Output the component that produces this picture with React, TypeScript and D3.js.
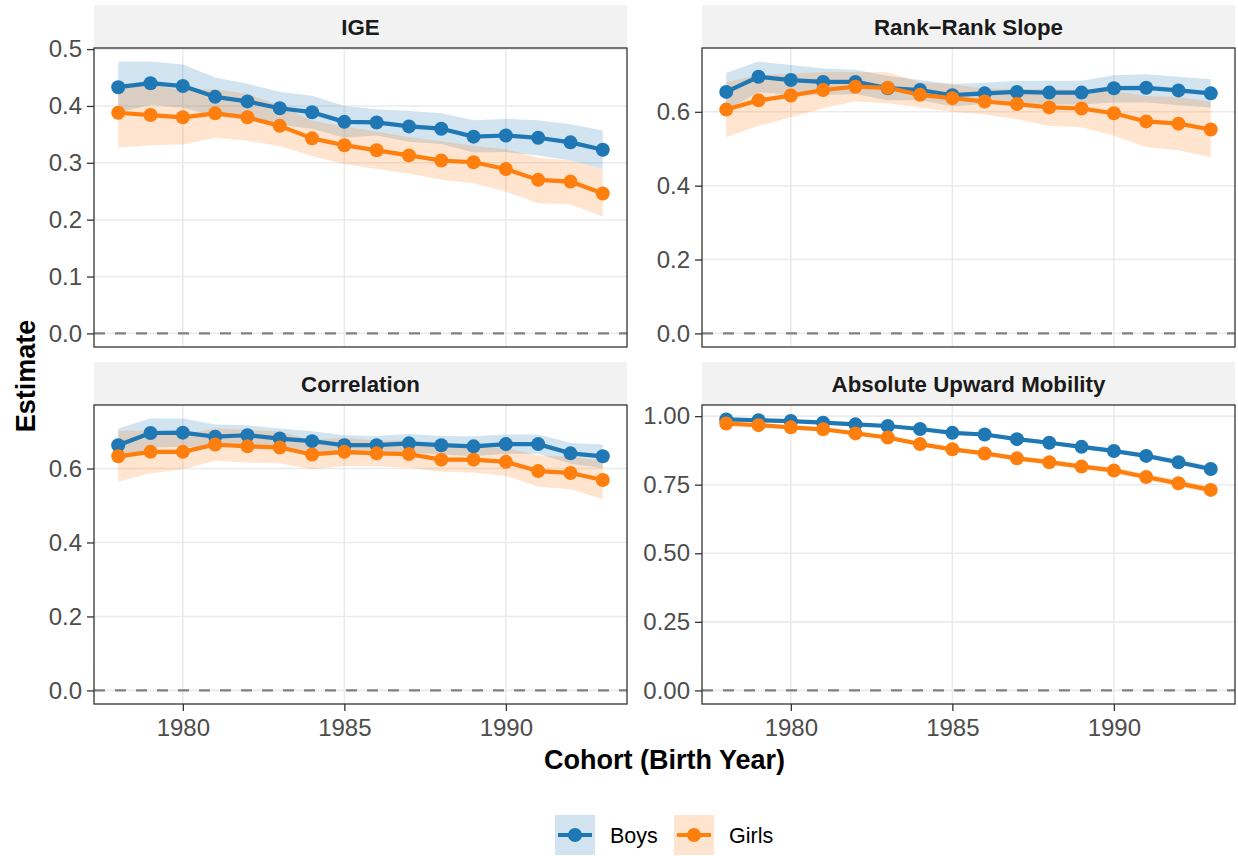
import { useEffect, useRef } from "react";
import * as d3 from "d3";

// birth cohorts on the x axis
const cohorts = [1978, 1979, 1980, 1981, 1982, 1983, 1984, 1985, 1986, 1987, 1988, 1989, 1990, 1991, 1992, 1993];
const xTicks = [1980, 1985, 1990];
const genders = ["Boys", "Girls"];

// IGE
const igeBoys = [0.433, 0.44, 0.435, 0.416, 0.408, 0.396, 0.389, 0.372, 0.371, 0.364, 0.36, 0.346, 0.348, 0.344, 0.336, 0.323];
const igeBoysLo = [0.388, 0.402, 0.397, 0.382, 0.377, 0.367, 0.36, 0.344, 0.348, 0.337, 0.333, 0.318, 0.319, 0.313, 0.304, 0.289];
const igeBoysHi = [0.478, 0.478, 0.473, 0.45, 0.439, 0.425, 0.418, 0.4, 0.394, 0.391, 0.387, 0.375, 0.377, 0.375, 0.368, 0.357];
const igeGirls = [0.388, 0.384, 0.38, 0.387, 0.38, 0.365, 0.343, 0.331, 0.322, 0.313, 0.304, 0.301, 0.289, 0.27, 0.267, 0.246];
const igeGirlsLo = [0.327, 0.331, 0.332, 0.344, 0.339, 0.329, 0.312, 0.298, 0.289, 0.281, 0.27, 0.264, 0.249, 0.229, 0.227, 0.205];
const igeGirlsHi = [0.44, 0.437, 0.428, 0.43, 0.421, 0.401, 0.374, 0.364, 0.355, 0.345, 0.338, 0.33, 0.324, 0.309, 0.304, 0.289];

// Rank-rank slope
const rrBoys = [0.654, 0.695, 0.686, 0.681, 0.681, 0.664, 0.659, 0.645, 0.65, 0.654, 0.652, 0.652, 0.664, 0.665, 0.658, 0.65];
const rrBoysLo = [0.603, 0.654, 0.645, 0.645, 0.648, 0.631, 0.632, 0.615, 0.621, 0.624, 0.62, 0.62, 0.625, 0.625, 0.618, 0.612];
const rrBoysHi = [0.705, 0.736, 0.727, 0.717, 0.714, 0.697, 0.686, 0.675, 0.679, 0.684, 0.684, 0.684, 0.699, 0.702, 0.695, 0.688];
const rrGirls = [0.606, 0.631, 0.644, 0.659, 0.668, 0.665, 0.646, 0.637, 0.628, 0.621, 0.612, 0.609, 0.596, 0.574, 0.568, 0.552];
const rrGirlsLo = [0.531, 0.562, 0.585, 0.61, 0.628, 0.623, 0.612, 0.6, 0.593, 0.58, 0.562, 0.558, 0.535, 0.505, 0.496, 0.477];
const rrGirlsHi = [0.681, 0.7, 0.703, 0.708, 0.708, 0.707, 0.68, 0.674, 0.663, 0.662, 0.662, 0.66, 0.657, 0.643, 0.64, 0.627];

// Correlation
const corBoys = [0.663, 0.696, 0.697, 0.686, 0.69, 0.681, 0.674, 0.663, 0.663, 0.668, 0.663, 0.66, 0.666, 0.666, 0.641, 0.633];
const corBoysLo = [0.618, 0.657, 0.659, 0.653, 0.663, 0.654, 0.647, 0.636, 0.638, 0.643, 0.638, 0.633, 0.64, 0.64, 0.613, 0.601];
const corBoysHi = [0.708, 0.735, 0.735, 0.719, 0.717, 0.708, 0.701, 0.69, 0.688, 0.693, 0.688, 0.687, 0.692, 0.692, 0.669, 0.665];
const corGirls = [0.633, 0.645, 0.645, 0.665, 0.66, 0.657, 0.638, 0.645, 0.641, 0.639, 0.624, 0.624, 0.618, 0.593, 0.588, 0.569];
const corGirlsLo = [0.564, 0.587, 0.598, 0.621, 0.616, 0.614, 0.598, 0.607, 0.606, 0.602, 0.591, 0.589, 0.58, 0.551, 0.544, 0.517];
const corGirlsHi = [0.702, 0.703, 0.692, 0.709, 0.704, 0.7, 0.678, 0.683, 0.676, 0.676, 0.657, 0.659, 0.656, 0.635, 0.632, 0.621];

// Absolute upward mobility
const aumBoys = [0.988, 0.985, 0.982, 0.976, 0.97, 0.964, 0.953, 0.939, 0.933, 0.916, 0.903, 0.888, 0.873, 0.855, 0.832, 0.807];
const aumBoysLo = [0.985, 0.981, 0.978, 0.972, 0.965, 0.959, 0.948, 0.933, 0.927, 0.909, 0.896, 0.88, 0.865, 0.846, 0.822, 0.796];
const aumBoysHi = [0.991, 0.989, 0.986, 0.98, 0.975, 0.969, 0.958, 0.945, 0.939, 0.923, 0.91, 0.896, 0.881, 0.864, 0.842, 0.818];
const aumGirls = [0.973, 0.967, 0.959, 0.952, 0.937, 0.922, 0.898, 0.879, 0.864, 0.846, 0.832, 0.816, 0.802, 0.778, 0.755, 0.731];
const aumGirlsLo = [0.969, 0.963, 0.954, 0.947, 0.931, 0.916, 0.891, 0.872, 0.856, 0.838, 0.823, 0.807, 0.792, 0.767, 0.743, 0.718];
const aumGirlsHi = [0.977, 0.971, 0.964, 0.957, 0.943, 0.928, 0.905, 0.886, 0.872, 0.854, 0.841, 0.825, 0.812, 0.789, 0.767, 0.744];

const panelTitles = ["IGE", "Rank\u2212Rank Slope", "Correlation", "Absolute Upward Mobility"];
const yTicks = [
  [0, 0.1, 0.2, 0.3, 0.4, 0.5],
  [0, 0.2, 0.4, 0.6],
  [0, 0.2, 0.4, 0.6],
  [0, 0.25, 0.5, 0.75, 1],
];
const yFormats = [".1f", ".1f", ".1f", ".2f"];

const colors = { Boys: "#1F77B4", Girls: "#FF7F0E" };
const FONT = "'Liberation Sans', Arial, Helvetica, sans-serif";

const App = () => {
  const svgRef = useRef<SVGSVGElement>(null);

  useEffect(() => {
    document.body.style.margin = "0";
    const svg = d3.select(svgRef.current);
    svg.selectAll("*").remove();

    const W = 1238;
    const H = 856;
    svg.attr("width", W).attr("height", H).style("font-family", FONT);

    const series = [
      [
        { est: igeBoys, lo: igeBoysLo, hi: igeBoysHi },
        { est: igeGirls, lo: igeGirlsLo, hi: igeGirlsHi },
      ],
      [
        { est: rrBoys, lo: rrBoysLo, hi: rrBoysHi },
        { est: rrGirls, lo: rrGirlsLo, hi: rrGirlsHi },
      ],
      [
        { est: corBoys, lo: corBoysLo, hi: corBoysHi },
        { est: corGirls, lo: corGirlsLo, hi: corGirlsHi },
      ],
      [
        { est: aumBoys, lo: aumBoysLo, hi: aumBoysHi },
        { est: aumGirls, lo: aumGirlsLo, hi: aumGirlsHi },
      ],
    ];

    const colX = [94, 702];
    const rowY = [48, 405];
    const pw = 533;
    const ph = 299;
    const stripH = 43;

    // shared x scale, 5% expansion like ggplot
    const xr = 1993 - 1978;
    const x = d3.scaleLinear().domain([1978 - xr * 0.05, 1993 + xr * 0.05]).range([0, pw]);

    series.forEach((grp, i) => {
      const px = colX[i % 2];
      const py = rowY[Math.floor(i / 2)];
      const maxV = d3.max(grp.flatMap((s) => s.hi)) as number;
      const y = d3.scaleLinear().domain([-0.05 * maxV, 1.05 * maxV]).range([ph, 0]);

      // strip
      svg.append("rect").attr("x", px).attr("y", py - stripH).attr("width", pw).attr("height", stripH).attr("fill", "#F2F2F2");
      svg
        .append("text")
        .attr("x", px + pw / 2)
        .attr("y", py - stripH / 2)
        .attr("dy", "0.36em")
        .attr("text-anchor", "middle")
        .style("font-size", "22.3px")
        .style("font-weight", "bold")
        .attr("fill", "#1A1A1A")
        .text(panelTitles[i]);

      const g = svg.append("g").attr("transform", `translate(${px},${py})`);
      g.append("rect").attr("width", pw).attr("height", ph).attr("fill", "white");

      // grid
      g.selectAll(".gy")
        .data(yTicks[i])
        .join("line")
        .attr("x1", 0)
        .attr("x2", pw)
        .attr("y1", (d) => y(d))
        .attr("y2", (d) => y(d))
        .attr("stroke", "#EBEBEB")
        .attr("stroke-width", 1.6);
      g.selectAll(".gx")
        .data(xTicks)
        .join("line")
        .attr("x1", (d) => x(d))
        .attr("x2", (d) => x(d))
        .attr("y1", 0)
        .attr("y2", ph)
        .attr("stroke", "#EBEBEB")
        .attr("stroke-width", 1.6);

      // zero reference
      g.append("line")
        .attr("x1", 0)
        .attr("x2", pw)
        .attr("y1", y(0))
        .attr("y2", y(0))
        .attr("stroke", "#808080")
        .attr("stroke-width", 2.2)
        .attr("stroke-dasharray", "11,10");

      // confidence ribbons
      grp.forEach((s, k) => {
        const band = d3
          .area<number>()
          .x((_, j) => x(cohorts[j]))
          .y0((_, j) => y(s.lo[j]))
          .y1((_, j) => y(s.hi[j]));
        g.append("path").datum(s.est).attr("d", band).attr("fill", colors[genders[k]]).attr("fill-opacity", 0.2);
      });

      const line = d3
        .line<number>()
        .x((_, j) => x(cohorts[j]))
        .y((d) => y(d));
      grp.forEach((s, k) => {
        g.append("path")
          .datum(s.est)
          .attr("d", line)
          .attr("fill", "none")
          .attr("stroke", colors[genders[k]])
          .attr("stroke-width", 4.2)
          .attr("stroke-linejoin", "round");
      });
      grp.forEach((s, k) => {
        g.selectAll(null)
          .data(s.est)
          .join("circle")
          .attr("cx", (_, j) => x(cohorts[j]))
          .attr("cy", (d) => y(d))
          .attr("r", 7)
          .attr("fill", colors[genders[k]]);
      });

      // border
      g.append("rect")
        .attr("width", pw)
        .attr("height", ph)
        .attr("fill", "none")
        .attr("stroke", "#333333")
        .attr("stroke-width", 1.3);

      // y axis
      const yAxis = g
        .append("g")
        .call(d3.axisLeft(y).tickValues(yTicks[i]).tickFormat(d3.format(yFormats[i])).tickSize(7).tickPadding(5));
      yAxis.select(".domain").remove();
      yAxis.selectAll("line").attr("stroke", "#333333").attr("stroke-width", 1.3);
      yAxis.selectAll("text").attr("fill", "#4D4D4D").style("font-size", "24px").style("font-family", FONT);

      // x axis on bottom row only
      if (i >= 2) {
        const xAxis = g
          .append("g")
          .attr("transform", `translate(0,${ph})`)
          .call(d3.axisBottom(x).tickValues(xTicks).tickFormat(d3.format("d")).tickSize(7).tickPadding(8));
        xAxis.select(".domain").remove();
        xAxis.selectAll("line").attr("stroke", "#333333").attr("stroke-width", 1.3);
        xAxis.selectAll("text").attr("fill", "#4D4D4D").style("font-size", "24px").style("font-family", FONT);
      }
    });

    // axis titles
    svg
      .append("text")
      .attr("transform", `translate(25,376) rotate(-90)`)
      .attr("text-anchor", "middle")
      .attr("dy", "0.36em")
      .style("font-size", "27px")
      .style("font-weight", "bold")
      .text("Estimate");
    svg
      .append("text")
      .attr("x", 664.5)
      .attr("y", 769)
      .attr("text-anchor", "middle")
      .style("font-size", "27px")
      .style("font-weight", "bold")
      .text("Cohort (Birth Year)");

    // legend
    const legendX = [555, 674];
    genders.forEach((gname, k) => {
      const lg = svg.append("g").attr("transform", `translate(${legendX[k]},815)`);
      lg.append("rect").attr("width", 40).attr("height", 40).attr("fill", colors[gname]).attr("fill-opacity", 0.2);
      lg.append("line").attr("x1", 3).attr("x2", 37).attr("y1", 20).attr("y2", 20).attr("stroke", colors[gname]).attr("stroke-width", 4);
      lg.append("circle").attr("cx", 20).attr("cy", 20).attr("r", 7).attr("fill", colors[gname]);
      lg.append("text")
        .attr("x", 55)
        .attr("y", 20)
        .attr("dy", "0.36em")
        .style("font-size", "21.5px")
        .attr("fill", "#000")
        .text(gname);
    });
  }, []);

  return <svg ref={svgRef} style={{ display: "block" }} />;
};

export default App;
